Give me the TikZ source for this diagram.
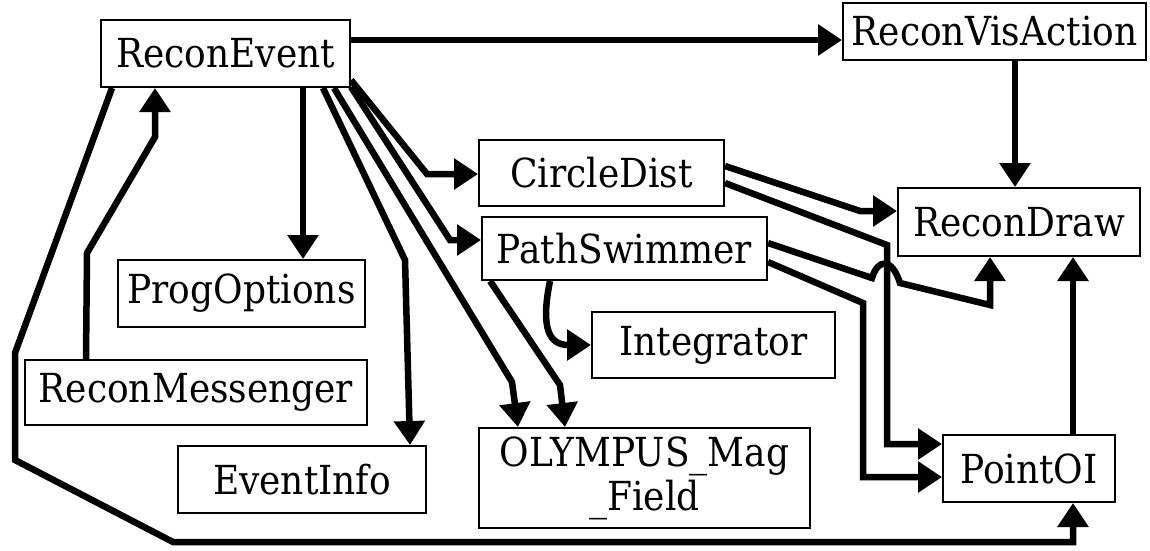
\documentclass[tikz,border=0pt]{standalone}
\usepackage{fontspec}
\setmainfont{DejaVu Serif Condensed}
\usetikzlibrary{arrows.meta}
\begin{document}
\begin{tikzpicture}[x=1pt,y=-1pt,
  box/.style={draw,line width=2pt,inner sep=0pt,align=center,font=\fontsize{40}{44}\selectfont},
  link/.style={line width=6.5pt,-{Triangle[length=24pt,width=30pt]}}]
\useasboundingbox (0,0) rectangle (1150,550);
% nodes
\node[box,minimum width=249pt,minimum height=67pt] (RE) at (225.5,53.5) {ReconEvent};
\node[box,minimum width=303pt,minimum height=57pt] (RVA) at (994.5,31.5) {ReconVisAction};
\node[box,minimum width=245pt,minimum height=66pt] (CD) at (601.5,173) {CircleDist};
\node[box,minimum width=242pt,minimum height=68pt] (RD) at (1019,222) {ReconDraw};
\node[box,minimum width=285pt,minimum height=63pt] (PS) at (624.5,248.5) {PathSwimmer};
\node[box,minimum width=247pt,minimum height=67pt] (PrO) at (241.5,293.5) {ProgOptions};
\node[box,minimum width=243pt,minimum height=66pt] (IN) at (713.5,345) {Integrator};
\node[box,minimum width=342pt,minimum height=65pt] (RM) at (196,392.5) {ReconMessenger};
\node[box,minimum width=331pt,minimum height=100pt,font=\fontsize{40}{44}\selectfont] (OM) at (644.5,478) {OLYMPUS\_Mag\\\_Field};
\node[box,minimum width=248pt,minimum height=67pt] (EI) at (302,479.5) {EventInfo};
\node[box,minimum width=172pt,minimum height=67pt] (POI) at (1029,468.5) {PointOI};
% connectors
\draw[link] (RE.east |- 0,40) -- (RVA.west |- 0,40);
\draw[link] (RVA.south -| 1015,0) -- (RD.north -| 1015,0);
\draw[link] (RE.south -| 303,0) -- (PrO.north -| 303,0);
\draw[link] (RM.north -| 86,0) -- (87,253) -- (155,137) -- (RE.south -| 155,0);
\draw[link] (RE.south -| 112,0) -- (15,353) -- (15,460) -- (173,542) -- (1073,542) -- (POI.south -| 1073,0);
\draw[link] (RE.south -| 323,0) -- (405,260) -- (EI.north -| 410,0);
\draw[link] (RE.south -| 334,0) -- (512,382) -- (OM.north -| 518,0);
\draw[link] (RE.east |- 0,80) -- (427,174) -- (CD.west |- 0,174);
\draw[link] (RE.east |- 0,87) -- (450,240) -- (PS.west |- 0,240);
\draw[link] (PS.south -| 490,0) -- (560,385) -- (OM.north -| 565,0);
\draw[link] (PS.south -| 550,0) .. controls (540,330) and (550,345) .. (IN.west |- 0,345);
\draw[link] (CD.east |- 0,166) -- (860,211) -- (RD.west |- 0,211);
\draw[link] (CD.east |- 0,183) -- (887,245) -- (887,444) -- (POI.west |- 0,444);
\draw[link] (PS.east |- 0,243) -- (872,278) .. controls (878,258) and (892,258) .. (900,283) -- (990,305) -- (RD.south -| 990,0);
\draw[link] (PS.east |- 0,262) -- (863,303) -- (863,477) -- (POI.west |- 0,477);
\draw[link] (POI.north -| 1073,0) -- (RD.south -| 1073,0);
\end{tikzpicture}
\end{document}
